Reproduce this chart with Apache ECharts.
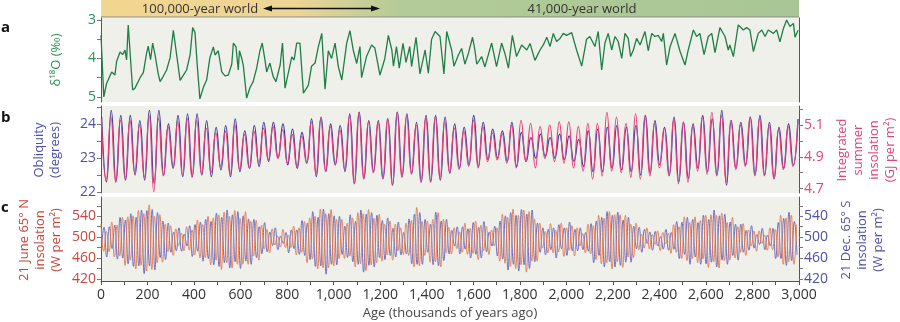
<!DOCTYPE html>
<html>
<head>
<meta charset="utf-8">
<script src="https://cdn.jsdelivr.net/npm/echarts@6/dist/echarts.min.js"></script>
<style>
  html, body { margin: 0; padding: 0; background: #fff; }
  #chart { width: 900px; height: 322px; }
</style>
</head>
<body>
<div id="chart"></div>
<script>
// panel a: benthic d18O stack (turning points)
const d18oAges = [0, 12, 24, 46, 60, 67, 82, 93, 103, 110, 117, 136, 146, 168, 182, 196, 203, 213, 222, 232, 246, 254, 267, 282, 297, 311, 325, 340, 350, 368, 383, 394, 404, 414, 425, 440, 454, 468, 483, 490, 504, 519, 533, 547, 562, 569, 580, 590, 595, 605, 612, 626, 640, 654, 669, 683, 693, 705, 712, 726, 740, 752, 770, 780, 791, 820, 830, 841, 855, 870, 891, 905, 920, 934, 949, 963, 977, 991, 1006, 1020, 1035, 1056, 1070, 1084, 1099, 1113, 1120, 1141, 1163, 1177, 1199, 1220, 1235, 1250, 1257, 1270, 1282, 1298, 1311, 1327, 1335, 1354, 1371, 1393, 1407, 1421, 1436, 1457, 1474, 1486, 1507, 1517, 1536, 1550, 1564, 1579, 1597, 1607, 1615, 1636, 1650, 1679, 1700, 1722, 1736, 1751, 1768, 1786, 1808, 1830, 1844, 1865, 1887, 1901, 1916, 1930, 1944, 1958, 1973, 1987, 2001, 2023, 2044, 2066, 2087, 2101, 2123, 2137, 2152, 2166, 2180, 2195, 2209, 2223, 2238, 2252, 2266, 2276, 2288, 2302, 2317, 2338, 2352, 2367, 2381, 2395, 2410, 2417, 2431, 2446, 2467, 2489, 2510, 2524, 2546, 2560, 2574, 2592, 2610, 2625, 2639, 2660, 2682, 2696, 2703, 2718, 2739, 2761, 2775, 2789, 2804, 2825, 2840, 2854, 2868, 2890, 2904, 2918, 2933, 2947, 2961, 2976, 2983, 2996];
const d18oValues = [3.4, 5.0, 4.65, 4.35, 4.43, 4.08, 3.83, 3.9, 3.78, 4.04, 3.13, 4.82, 4.77, 4.5, 4.37, 3.86, 3.68, 4.03, 3.6, 3.9, 4.4, 4.6, 4.47, 4.3, 3.98, 3.27, 3.9, 4.57, 4.47, 4.3, 3.9, 3.2, 3.33, 4.2, 5.05, 4.75, 4.56, 3.98, 3.7, 3.91, 3.8, 4.35, 4.45, 4.43, 4.15, 3.6, 3.69, 4.3, 3.8, 4.0, 4.2, 5.03, 4.76, 4.6, 4.25, 3.8, 3.6, 4.05, 4.35, 4.12, 4.47, 4.6, 4.17, 3.6, 4.77, 3.96, 4.04, 3.6, 3.6, 4.9, 4.7, 4.2, 4.12, 3.7, 3.35, 4.8, 3.8, 4.0, 3.6, 4.21, 4.56, 3.6, 3.28, 3.78, 4.13, 3.69, 4.5, 3.95, 3.65, 3.73, 4.43, 4.0, 3.4, 3.78, 4.2, 3.69, 4.25, 3.61, 4.1, 3.69, 4.21, 3.45, 4.4, 3.78, 4.38, 3.5, 3.3, 3.43, 4.4, 3.3, 3.78, 4.2, 3.91, 3.74, 4.15, 3.87, 3.45, 3.78, 4.15, 3.95, 4.22, 3.6, 4.21, 3.6, 3.87, 4.25, 3.4, 3.95, 3.65, 3.78, 3.61, 4.05, 3.78, 3.65, 3.45, 3.69, 3.35, 3.56, 3.48, 3.35, 3.4, 3.33, 3.78, 4.2, 3.5, 3.43, 3.69, 3.3, 4.3, 3.6, 3.35, 3.78, 3.43, 3.56, 4.0, 3.35, 3.48, 3.95, 3.78, 3.48, 3.65, 3.3, 3.8, 3.35, 3.43, 3.4, 3.56, 3.35, 4.17, 3.69, 3.35, 3.82, 4.17, 3.78, 3.26, 3.43, 3.35, 3.9, 3.43, 3.35, 3.85, 3.2, 3.43, 3.78, 3.65, 3.95, 3.13, 3.26, 3.2, 3.26, 3.82, 3.35, 3.26, 3.43, 3.26, 3.35, 3.26, 3.57, 3.22, 3.0, 3.17, 3.09, 3.45, 3.27];

// panel b: obliquity and integrated summer insolation, alternate maxima / minima
const obliquityStart = 3;
const summerStart = 1.5;
const obliquityStep = 20.5;
const obliquity = [24.2, 22.3, 24.4, 22.3, 24.25, 22.35, 24.25, 22.5, 24.1, 22.35, 24.4, 22.25, 24.4, 22.5, 24.0, 22.7, 24.25, 22.45, 24.3, 22.45, 24.3, 22.5, 24.1, 22.45, 23.9, 22.65, 23.95, 22.45, 24.15, 22.6, 23.8, 22.7, 23.95, 22.75, 24.05, 22.9, 24.05, 23.0, 24.0, 22.8, 23.85, 22.7, 23.75, 22.85, 24.15, 22.45, 24.2, 22.6, 24.0, 22.8, 23.95, 22.6, 24.3, 22.25, 24.35, 22.4, 24.1, 22.6, 24.1, 22.4, 24.15, 22.2, 24.35, 22.45, 24.3, 22.55, 24.05, 22.3, 24.25, 22.3, 24.25, 22.35, 24.2, 22.55, 24.0, 22.7, 23.9, 22.8, 24.25, 22.75, 24.05, 22.95, 23.85, 23.0, 23.8, 22.9, 24.05, 22.75, 23.75, 22.9, 23.6, 23.0, 23.7, 23.05, 23.6, 23.0, 23.7, 22.95, 23.65, 22.9, 23.55, 22.75, 23.8, 22.6, 23.85, 22.6, 23.9, 22.7, 23.95, 22.65, 23.9, 22.6, 23.95, 22.5, 24.25, 22.55, 24.1, 22.8, 23.9, 22.5, 24.2, 22.3, 24.05, 22.4, 24.0, 22.7, 24.25, 22.6, 24.15, 22.5, 24.4, 22.2, 24.1, 22.7, 24.05, 22.8, 24.2, 22.5, 24.25, 22.5, 24.05, 22.4, 23.9, 22.7, 24.0, 22.8, 24.15];
const summerInsolation = [5.14, 4.75, 5.15, 4.74, 5.13, 4.76, 5.13, 4.80, 5.10, 4.77, 5.16, 4.68, 5.14, 4.78, 5.09, 4.83, 5.12, 4.78, 5.14, 4.77, 5.13, 4.79, 5.08, 4.80, 5.05, 4.84, 5.06, 4.79, 5.10, 4.82, 5.04, 4.83, 5.06, 4.86, 5.08, 4.88, 5.09, 4.89, 5.07, 4.86, 5.04, 4.84, 5.03, 4.86, 5.12, 4.79, 5.14, 4.81, 5.09, 4.85, 5.07, 4.82, 5.16, 4.73, 5.18, 4.76, 5.12, 4.80, 5.12, 4.76, 5.14, 4.72, 5.18, 4.77, 5.16, 4.79, 5.10, 4.74, 5.15, 4.74, 5.15, 4.76, 5.12, 4.80, 5.08, 4.82, 5.06, 4.84, 5.13, 4.83, 5.09, 4.87, 5.05, 4.88, 5.05, 4.86, 5.10, 4.83, 5.13, 4.87, 5.11, 4.83, 5.09, 4.89, 5.10, 4.87, 5.12, 4.86, 5.12, 4.83, 5.09, 4.81, 5.11, 4.76, 5.11, 4.78, 5.18, 4.81, 5.15, 4.80, 5.11, 4.77, 5.17, 4.76, 5.16, 4.78, 5.11, 4.83, 5.08, 4.78, 5.14, 4.73, 5.12, 4.74, 5.10, 4.81, 5.15, 4.79, 5.18, 4.78, 5.16, 4.74, 5.13, 4.82, 5.10, 4.84, 5.15, 4.78, 5.14, 4.78, 5.10, 4.76, 5.07, 4.82, 5.09, 4.84, 5.12];

// panel c: 21 June 65N and 21 Dec 65S insolation, alternate maxima / minima
const juneStart = 0;
const decStart = 1.5;
const insolStep = 11.5;
const juneInsolation = [526, 473, 511, 472, 529, 462, 523, 464, 538, 446, 539, 456, 541, 439, 551, 446, 545, 435, 562, 438, 540, 451, 543, 452, 525, 472, 522, 465, 516, 484, 508, 474, 520, 475, 514, 466, 533, 460, 524, 461, 540, 447, 537, 456, 543, 438, 548, 451, 540, 441, 551, 448, 536, 448, 549, 448, 530, 464, 532, 456, 523, 477, 515, 470, 516, 485, 502, 481, 515, 480, 504, 480, 521, 466, 518, 471, 530, 451, 537, 458, 540, 439, 554, 441, 545, 441, 553, 445, 534, 459, 534, 459, 527, 464, 537, 443, 547, 449, 545, 436, 553, 447, 536, 451, 544, 454, 525, 466, 531, 456, 525, 474, 518, 467, 527, 465, 532, 443, 557, 445, 530, 465, 531, 452, 534, 453, 547, 443, 534, 470, 519, 468, 518, 478, 510, 471, 527, 467, 517, 469, 531, 457, 523, 474, 521, 467, 514, 483, 518, 454, 544, 450, 538, 444, 554, 440, 542, 447, 552, 433, 549, 454, 535, 454, 527, 479, 511, 470, 526, 470, 513, 472, 527, 463, 518, 475, 522, 464, 518, 483, 507, 470, 525, 468, 522, 457, 542, 449, 536, 451, 549, 439, 543, 453, 543, 442, 542, 462, 525, 461, 527, 476, 506, 479, 518, 477, 505, 486, 512, 474, 509, 487, 508, 469, 524, 471, 520, 459, 539, 455, 528, 459, 539, 451, 532, 458, 542, 442, 543, 453, 542, 441, 546, 455, 528, 456, 538, 460, 520, 471, 526, 465, 514, 483, 512, 473, 512, 488, 504, 475, 518, 476, 515, 462, 542, 448, 537, 453, 542, 448, 524];
const decInsolation = [474, 519, 462, 520, 478, 523, 458, 538, 460, 533, 449, 545, 444, 538, 445, 552, 430, 551, 445, 553, 437, 547, 461, 531, 457, 527, 471, 510, 474, 518, 473, 506, 483, 522, 463, 524, 473, 529, 454, 534, 459, 530, 447, 546, 444, 538, 451, 552, 441, 543, 453, 549, 440, 541, 454, 535, 448, 534, 461, 520, 468, 528, 472, 510, 484, 518, 476, 502, 488, 509, 470, 514, 478, 514, 467, 532, 465, 527, 457, 549, 444, 538, 445, 554, 429, 545, 448, 541, 447, 540, 467, 521, 461, 543, 453, 530, 448, 552, 433, 544, 446, 547, 443, 542, 461, 532, 457, 537, 465, 517, 462, 529, 466, 509, 468, 535, 449, 544, 448, 547, 448, 534, 471, 525, 447, 548, 445, 531, 455, 534, 468, 513, 483, 520, 468, 520, 477, 516, 460, 528, 467, 519, 460, 530, 472, 510, 483, 521, 464, 531, 458, 541, 437, 547, 448, 542, 435, 553, 447, 544, 440, 552, 453, 527, 471, 518, 466, 515, 476, 518, 460, 524, 478, 518, 465, 529, 474, 515, 474, 518, 476, 509, 473, 526, 451, 531, 465, 538, 443, 549, 453, 542, 443, 548, 446, 533, 452, 538, 452, 521, 478, 519, 471, 515, 488, 510, 475, 511, 483, 501, 477, 515, 475, 509, 477, 530, 459, 529, 467, 538, 448, 534, 462, 528, 448, 542, 449, 534, 452, 552, 443, 541, 456, 544, 448, 529, 465, 525, 456, 525, 471, 513, 475, 522, 479, 505, 486, 517, 476, 504, 483, 517, 459, 528, 459, 536, 446, 548, 455, 530, 466];

const toPoints = (start, step, values) => values.map((v, i) => [start + i * step, v]);
const pairPoints = (xs, ys) => xs.map((x, i) => [x, ys[i]]);

const FONT = "'Open Sans', 'Noto Sans', sans-serif";
const GREEN = "#2f8f55";
const BLUE = "#4f4fa6";
const PINK = "#e0447d";
const RED = "#c9453d";

const grids = [
  { left: 101, right: 101, top: 18, height: 84 },
  { left: 101, right: 101, top: 106, height: 87 },
  { left: 101, right: 101, top: 197, height: 84 },
].map((g) => ({ ...g, show: true, backgroundColor: "#f0f0eb", borderWidth: 0 }));

const axisLine = { show: true, lineStyle: { color: "#555", width: 1 } };
const tick = (values) => ({
  show: true, length: 4, lineStyle: { color: "#777" }, customValues: values,
});

const makeY = (grid, pos, min, max, color, labels, ticks, inverse) => ({
  type: "value", gridIndex: grid, position: pos, min, max, inverse: !!inverse,
  axisLine, splitLine: { show: false },
  axisTick: tick(ticks),
  axisLabel: labels
    ? { color, fontSize: 14, fontFamily: FONT, margin: 5, customValues: labels }
    : { show: false },
});

const option = {
  animation: false,
  textStyle: { fontFamily: FONT },
  grid: grids,
  xAxis: [0, 1, 2].map((g) => ({
    type: "value", gridIndex: g, min: 0, max: 3000, interval: 100,
    show: g === 2,
    axisLine,
    splitLine: { show: false },
    axisTick: { show: true, length: 4, lineStyle: { color: "#555" } },
    axisLabel: {
      color: "#333", fontSize: 14, margin: 7,
      formatter: (v) => (v % 200 === 0 ? v.toLocaleString("en-US") : ""),
    },
    name: g === 2 ? "Age (thousands of years ago)" : "",
    nameLocation: "middle",
    nameGap: 26,
    nameTextStyle: { color: "#444", fontSize: 13 },
  })),
  yAxis: [
    makeY(0, "left", 2.95, 5.13, GREEN, [3, 4, 5], [3, 3.5, 4, 4.5, 5], true),
    makeY(0, "right", 2.95, 5.13, GREEN, null, [], true),
    makeY(1, "left", 21.97, 24.53, BLUE, [22, 23, 24], [22, 22.5, 23, 23.5, 24, 24.5]),
    makeY(1, "right", 4.672, 5.22, PINK, [4.7, 4.9, 5.1], [4.7, 4.8, 4.9, 5.0, 5.1, 5.2]),
    makeY(2, "left", 416, 577, RED, [420, 460, 500, 540], [420, 440, 460, 480, 500, 520, 540, 560]),
    makeY(2, "right", 416, 577, BLUE, [420, 460, 500, 540], [420, 440, 460, 480, 500, 520, 540, 560]),
  ],
  series: [
    {
      name: "d18O", type: "line", xAxisIndex: 0, yAxisIndex: 0, showSymbol: false,
      data: pairPoints(d18oAges, d18oValues),
      lineStyle: { color: "#1f7d47", width: 1.3 },
    },
    {
      name: "Obliquity", type: "line", xAxisIndex: 1, yAxisIndex: 2, showSymbol: false, smooth: 0.5,
      data: toPoints(obliquityStart, obliquityStep, obliquity),
      lineStyle: { color: "#3a3a9c", width: 1.3 },
    },
    {
      name: "Summer insolation", type: "line", xAxisIndex: 1, yAxisIndex: 3, showSymbol: false, smooth: 0.5,
      data: toPoints(summerStart, obliquityStep, summerInsolation),
      lineStyle: { color: "#e8407c", width: 1.2 },
    },
    {
      name: "21 Dec 65S", type: "line", xAxisIndex: 2, yAxisIndex: 5, showSymbol: false, smooth: 0.5,
      data: toPoints(decStart, insolStep, decInsolation),
      lineStyle: { color: "#6262bc", width: 0.9 },
    },
    {
      name: "21 June 65N", type: "line", xAxisIndex: 2, yAxisIndex: 4, showSymbol: false, smooth: 0.5,
      data: toPoints(juneStart, insolStep, juneInsolation),
      lineStyle: { color: "#e2784f", width: 0.9 },
    },
  ],
  graphic: [
    {
      type: "rect", shape: { x: 101, y: 0, width: 698, height: 17 }, silent: true,
      style: {
        fill: new echarts.graphic.LinearGradient(0, 0, 1, 0, [
          { offset: 0, color: "#f2d690" },
          { offset: 0.28, color: "#edd596" },
          { offset: 0.43, color: "#b3cb98" },
          { offset: 1, color: "#a8c695" },
        ]),
      },
    },
    { type: "line", shape: { x1: 101, y1: 17, x2: 799, y2: 17 }, style: { stroke: "#888", lineWidth: 1 } },
    {
      type: "text", x: 200, y: 9,
      style: { text: "100,000-year world", fill: "#333", font: "13px " + FONT, textAlign: "center", textVerticalAlign: "middle" },
    },
    {
      type: "text", x: 582, y: 9,
      style: { text: "41,000-year world", fill: "#333", font: "13px " + FONT, textAlign: "center", textVerticalAlign: "middle" },
    },
    { type: "line", shape: { x1: 266, y1: 8.5, x2: 377, y2: 8.5 }, style: { stroke: "#111", lineWidth: 1.4 } },
    { type: "polygon", shape: { points: [[263, 8.5], [272, 5.5], [272, 11.5]] }, style: { fill: "#111" } },
    { type: "polygon", shape: { points: [[380, 8.5], [371, 5.5], [371, 11.5]] }, style: { fill: "#111" } },

    { type: "text", x: 1, y: 28, style: { text: "a", fill: "#111", font: "bold 15px " + FONT, textVerticalAlign: "middle" } },
    { type: "text", x: 1, y: 118, style: { text: "b", fill: "#111", font: "bold 15px " + FONT, textVerticalAlign: "middle" } },
    { type: "text", x: 1, y: 208, style: { text: "c", fill: "#111", font: "bold 15px " + FONT, textVerticalAlign: "middle" } },

    {
      type: "text", x: 56, y: 60, rotation: Math.PI / 2,
      style: { text: "δ¹⁸O (‰)", fill: GREEN, font: "13px " + FONT, textAlign: "center", textVerticalAlign: "middle" },
    },
    {
      type: "text", x: 47, y: 150, rotation: Math.PI / 2,
      style: { text: "Obliquity\n(degrees)", fill: BLUE, font: "13px " + FONT, lineHeight: 16, textAlign: "center", textVerticalAlign: "middle" },
    },
    {
      type: "text", x: 866, y: 150, rotation: Math.PI / 2,
      style: { text: "Integrated\nsummer\ninsolation\n(GJ per m²)", fill: PINK, font: "13px " + FONT, lineHeight: 16, textAlign: "center", textVerticalAlign: "middle" },
    },
    {
      type: "text", x: 40, y: 240, rotation: Math.PI / 2,
      style: { text: "21 June 65° N\ninsolation\n(W per m²)", fill: RED, font: "13px " + FONT, lineHeight: 16, textAlign: "center", textVerticalAlign: "middle" },
    },
    {
      type: "text", x: 862, y: 240, rotation: Math.PI / 2,
      style: { text: "21 Dec. 65° S\ninsolation\n(W per m²)", fill: BLUE, font: "13px " + FONT, lineHeight: 16, textAlign: "center", textVerticalAlign: "middle" },
    },
  ],
};

const myChart = echarts.init(document.getElementById("chart"), null, { renderer: "canvas" });
myChart.setOption(option);
window.addEventListener("resize", () => myChart.resize());
</script>
</body>
</html>
